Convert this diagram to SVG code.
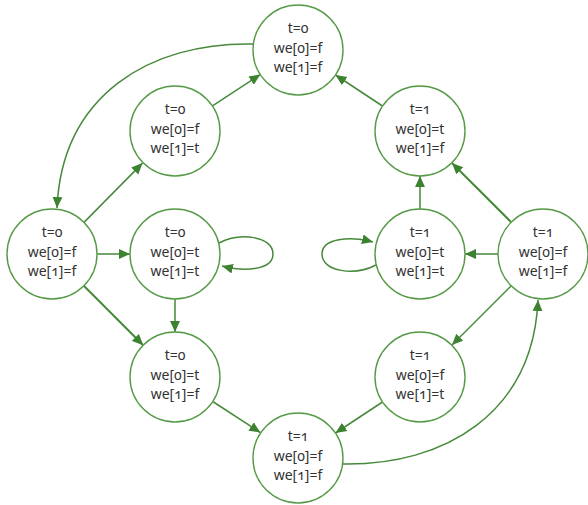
<svg xmlns="http://www.w3.org/2000/svg" width="588" height="505" viewBox="0 0 588 505">
  <defs>
    <marker id="arrow" viewBox="0 0 10 10" refX="10" refY="5" markerWidth="11" markerHeight="11" markerUnits="userSpaceOnUse" orient="auto">
      <path d="M0,0.5 L10,5 L0,9.5 Z" fill="#3c8230"/>
    </marker>
  </defs>
  <style>
    .node circle { fill: #ffffff; stroke: #569a48; stroke-width: 1.4; }
    .node text { font-family: "Noto Sans", "Open Sans", "DejaVu Sans", sans-serif; font-size: 14px; fill: #333333; text-anchor: middle; font-variant-numeric: oldstyle-nums; font-feature-settings: "onum" 1; }
    .edges path { fill: none; stroke: #46893a; stroke-width: 1.5; marker-end: url(#arrow); }
    .edges path.thick { stroke-width: 2; }
  </style>

  <g class="edges" id="edges">
    <!-- outer arcs -->
    <path d="M253,44 C150,42 62,95 57,208"/>
    <path d="M342,464 C445,466 533,413 538,300"/>
    <!-- left half -->
    <path d="M83.5,222.9 L142.5,163.1"/>
    <path d="M211.7,106.4 L260.3,74.6"/>
    <path d="M97,254 L130,254"/>
    <path d="M219,243 C240,232 273,236 273,254 C273,270 245,272 222,266"/>
    <path class="thick" d="M83.8,285.8 L143.2,345.2"/>
    <path d="M175,299 L175,332"/>
    <path d="M212.7,401.5 L260.3,432.5"/>
    <!-- right half -->
    <path d="M382.5,106 L335.5,75"/>
    <path class="thick" d="M511,222 L452,163"/>
    <path d="M420,209 L420,176"/>
    <path d="M498,254 L465,254"/>
    <path d="M376,265 C355,276 322,272 322,254 C322,238 350,236 373,242"/>
    <path d="M511,286 L452,345"/>
    <path d="M382.5,402 L335.5,433"/>
  </g>

  <g class="node" id="n_top">
    <circle cx="298" cy="50" r="45"/>
    <text x="298" y="33">t=0</text>
    <text x="298" y="53">we[0]=f</text>
    <text x="298" y="72">we[1]=f</text>
  </g>
  <g class="node" id="n_a">
    <circle cx="175" cy="131" r="45"/>
    <text x="175" y="114">t=0</text>
    <text x="175" y="134">we[0]=f</text>
    <text x="175" y="153">we[1]=t</text>
  </g>
  <g class="node" id="n_b">
    <circle cx="420" cy="131" r="45"/>
    <text x="420" y="114">t=1</text>
    <text x="420" y="134">we[0]=t</text>
    <text x="420" y="153">we[1]=f</text>
  </g>
  <g class="node" id="n_left">
    <circle cx="52" cy="254" r="45"/>
    <text x="52" y="237">t=0</text>
    <text x="52" y="257">we[0]=f</text>
    <text x="52" y="276">we[1]=f</text>
  </g>
  <g class="node" id="n_c">
    <circle cx="175" cy="254" r="45"/>
    <text x="175" y="237">t=0</text>
    <text x="175" y="257">we[0]=t</text>
    <text x="175" y="276">we[1]=t</text>
  </g>
  <g class="node" id="n_d">
    <circle cx="420" cy="254" r="45"/>
    <text x="420" y="237">t=1</text>
    <text x="420" y="257">we[0]=t</text>
    <text x="420" y="276">we[1]=t</text>
  </g>
  <g class="node" id="n_right">
    <circle cx="543" cy="254" r="45"/>
    <text x="543" y="237">t=1</text>
    <text x="543" y="257">we[0]=f</text>
    <text x="543" y="276">we[1]=f</text>
  </g>
  <g class="node" id="n_e">
    <circle cx="175" cy="377" r="45"/>
    <text x="175" y="360">t=0</text>
    <text x="175" y="380">we[0]=t</text>
    <text x="175" y="399">we[1]=f</text>
  </g>
  <g class="node" id="n_f">
    <circle cx="420" cy="377" r="45"/>
    <text x="420" y="360">t=1</text>
    <text x="420" y="380">we[0]=f</text>
    <text x="420" y="399">we[1]=t</text>
  </g>
  <g class="node" id="n_bottom">
    <circle cx="298" cy="458" r="45"/>
    <text x="298" y="441">t=1</text>
    <text x="298" y="461">we[0]=f</text>
    <text x="298" y="480">we[1]=f</text>
  </g>
</svg>
